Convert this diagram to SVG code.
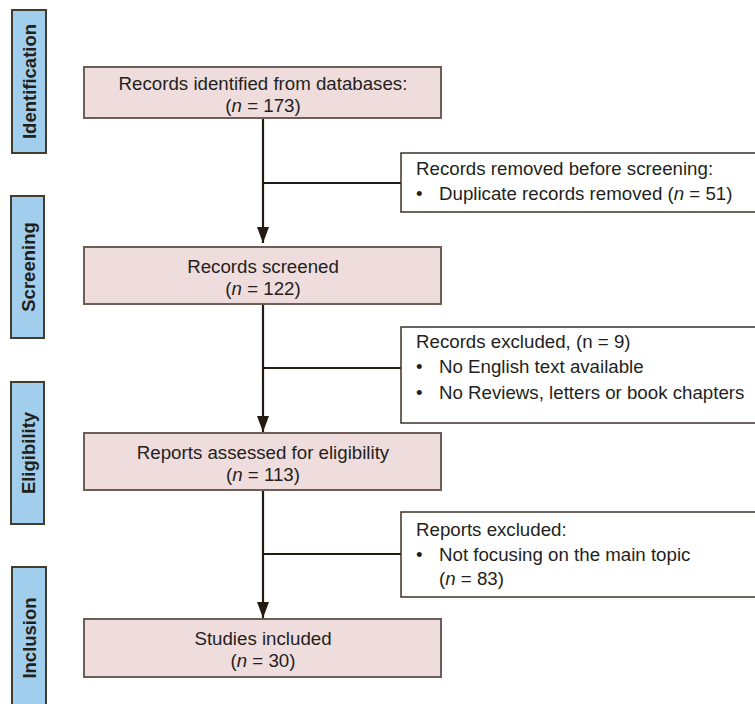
<svg xmlns="http://www.w3.org/2000/svg" width="755" height="704" viewBox="0 0 755 704">
<style>
.stage{fill:#a0ceec;stroke:#433d30;stroke-width:2}
.stxt{font-family:"Liberation Sans",Arial,sans-serif;font-size:18.5px;font-weight:bold;fill:#231f1a;text-anchor:middle}
.main{fill:#efdcdd;stroke:#6b5f57;stroke-width:2}
.side{fill:#ffffff;stroke:#3d3328;stroke-width:1.5}
.t{font-family:"Liberation Sans",Arial,sans-serif;font-size:18.7px;fill:#231f20}
.c{text-anchor:middle}
.conn{stroke:#231a10;stroke-width:2.2;fill:none}
</style>
<defs>
<marker id="ah" markerWidth="16" markerHeight="12" refX="16" refY="6" orient="auto" markerUnits="userSpaceOnUse" viewBox="0 0 16 12">
<path d="M0,0 L16,6 L0,12 Z" fill="#231a10"/>
</marker>
</defs>
<rect width="755" height="704" fill="#ffffff"/>

<g id="stage-identification">
<rect class="stage" x="12" y="10" width="34" height="143"/>
<text class="stxt" transform="translate(36,81.5) rotate(-90)">Identification</text>
</g>
<g id="stage-screening">
<rect class="stage" x="11" y="196" width="33" height="142"/>
<text class="stxt" transform="translate(34.5,267) rotate(-90)">Screening</text>
</g>
<g id="stage-eligibility">
<rect class="stage" x="11" y="382" width="33" height="142"/>
<text class="stxt" transform="translate(34.5,453) rotate(-90)">Eligibility</text>
</g>
<g id="stage-inclusion">
<rect class="stage" x="12" y="567" width="34" height="145"/>
<text class="stxt" transform="translate(36,638) rotate(-90)">Inclusion</text>
</g>

<g id="connectors">
<line class="conn" x1="263" y1="118" x2="263" y2="243" marker-end="url(#ah)"/>
<line class="conn" x1="263" y1="183" x2="401" y2="183"/>
<line class="conn" x1="263" y1="304" x2="263" y2="432" marker-end="url(#ah)"/>
<line class="conn" x1="263" y1="368" x2="401" y2="368"/>
<line class="conn" x1="263" y1="490" x2="263" y2="618" marker-end="url(#ah)"/>
<line class="conn" x1="263" y1="554" x2="401" y2="554"/>
</g>

<g id="records-identified">
<rect class="main" x="84" y="67" width="357" height="51"/>
<text class="t c" x="263" y="89.5">Records identified from databases:</text>
<text class="t c" x="263" y="111.5">(<tspan font-style="italic">n</tspan> = 173)</text>
</g>
<g id="records-screened">
<rect class="main" x="84" y="247" width="357" height="57"/>
<text class="t c" x="263" y="272.5">Records screened</text>
<text class="t c" x="263" y="294.5">(<tspan font-style="italic">n</tspan> = 122)</text>
</g>
<g id="reports-assessed">
<rect class="main" x="84" y="433" width="357" height="57"/>
<text class="t c" x="263" y="458.5">Reports assessed for eligibility</text>
<text class="t c" x="263" y="480.5">(<tspan font-style="italic">n</tspan> = 113)</text>
</g>
<g id="studies-included">
<rect class="main" x="84" y="619" width="357" height="58"/>
<text class="t c" x="263" y="644.5">Studies included</text>
<text class="t c" x="263" y="666.5">(<tspan font-style="italic">n</tspan> = 30)</text>
</g>

<g id="records-removed">
<rect class="side" x="401" y="153" width="360" height="59"/>
<text class="t" x="416" y="175">Records removed before screening:</text>
<text class="t" x="416" y="200">•</text>
<text class="t" x="439" y="200">Duplicate records removed (<tspan font-style="italic">n</tspan> = 51)</text>
</g>
<g id="records-excluded">
<rect class="side" x="401" y="327" width="360" height="96"/>
<text class="t" x="416" y="348">Records excluded, (n = 9)</text>
<text class="t" x="416" y="373">•</text>
<text class="t" x="439" y="373">No English text available</text>
<text class="t" x="416" y="399">•</text>
<text class="t" x="439" y="399">No Reviews, letters or book chapters</text>
</g>
<g id="reports-excluded">
<rect class="side" x="401" y="512" width="360" height="85"/>
<text class="t" x="416" y="536">Reports excluded:</text>
<text class="t" x="416" y="561">•</text>
<text class="t" x="439" y="561">Not focusing on the main topic</text>
<text class="t" x="439" y="585">(<tspan font-style="italic">n</tspan> = 83)</text>
</g>
</svg>
